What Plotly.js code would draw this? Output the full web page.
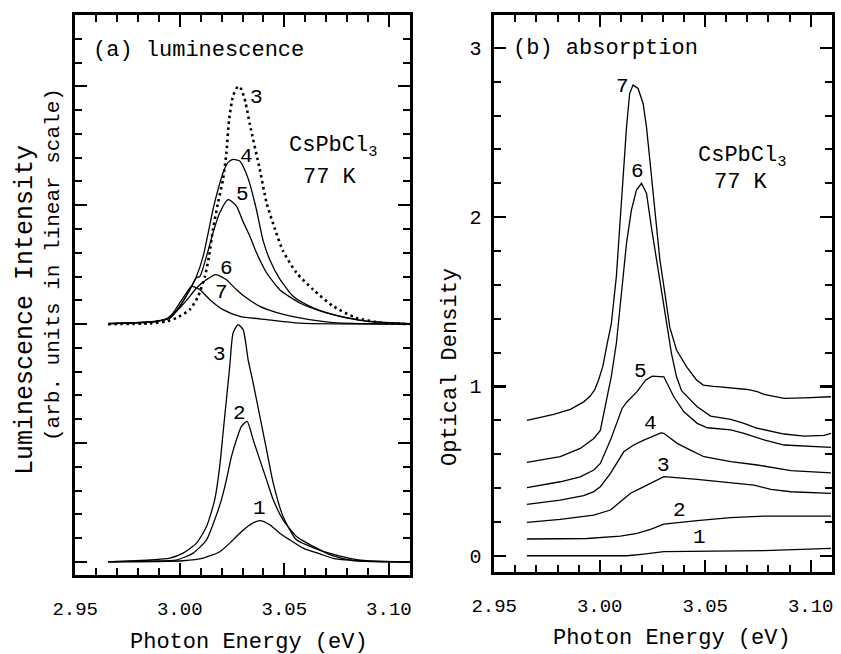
<!DOCTYPE html>
<html>
<head>
<meta charset="utf-8">
<script src="https://cdn.plot.ly/plotly-3.0.1.min.js"></script>
<style>html,body{margin:0;padding:0;background:#fff;}#plot{width:841px;height:654px;}</style>
</head>
<body>
<div id="plot"></div>
<script>
// ---------- Panel (a): luminescence (arb. units, tick units) ----------
// lower set (baseline 0)
const lumX1 = [2.9657,3.0016,3.0112,3.0191,3.0239,3.0287,3.0335,3.0383,3.0431,3.0478,3.0526,3.0590,3.0670,3.0734,3.0893,3.1100];
const lumY1 = [0.00,0.05,0.16,0.43,0.79,1.21,1.56,1.74,1.56,1.21,0.93,0.58,0.34,0.15,0.03,0.00];
const lumX2 = [2.9657,2.9856,2.9984,3.0064,3.0128,3.0167,3.0199,3.0223,3.0247,3.0271,3.0295,3.0322,3.0351,3.0383,3.0415,3.0447,3.0494,3.0558,3.0654,3.0734,3.0829,3.1100];
const lumY2 = [0.00,0.04,0.08,0.37,0.93,1.77,2.61,3.45,4.43,5.14,5.70,5.91,5.14,4.29,3.45,2.61,1.77,1.07,0.58,0.25,0.06,0.00];
const lumX3 = [2.9657,2.9856,2.9952,3.0016,3.0080,3.0128,3.0167,3.0191,3.0207,3.0223,3.0239,3.0255,3.0279,3.0303,3.0327,3.0351,3.0383,3.0415,3.0447,3.0494,3.0558,3.0654,3.0702,3.0813,3.0893,3.1100];
const lumY3 = [0.00,0.08,0.16,0.37,0.79,1.49,2.61,4.01,5.42,6.82,8.22,9.63,9.98,9.77,8.50,7.52,6.12,4.72,3.31,1.91,0.93,0.55,0.40,0.15,0.05,0.00];
// upper set (values above the upper baseline)
const upperOffset = 10;
const lumX3u = [2.9657,2.9856,2.9936,2.9984,3.0048,3.0088,3.0120,3.0140,3.0159,3.0183,3.0207,3.0223,3.0236,3.0255,3.0279,3.0295,3.0315,3.0335,3.0383,3.0415,3.0455,3.0494,3.0558,3.0638,3.0734,3.0845,3.0973,3.1100];
const lumY3u = [0.00,0.03,0.12,0.26,0.61,1.17,2.00,2.86,4.00,5.10,6.10,7.20,8.60,9.60,10.00,9.87,9.30,8.40,6.50,5.10,4.00,3.07,2.16,1.45,0.75,0.26,0.05,0.00];
const lumX4 = [2.9657,2.9761,2.9888,2.9952,3.0000,3.0048,3.0080,3.0112,3.0136,3.0159,3.0183,3.0207,3.0231,3.0255,3.0287,3.0310,3.0335,3.0367,3.0399,3.0431,3.0478,3.0542,3.0622,3.0734,3.0893,3.1100];
const lumY4 = [0.02,0.05,0.12,0.26,0.75,1.45,2.01,2.86,3.84,4.82,5.66,6.37,6.80,6.93,6.86,6.50,5.90,4.80,3.50,2.70,1.90,1.17,0.75,0.40,0.12,0.02];
const lumX5 = [2.9657,2.9761,2.9888,2.9952,3.0000,3.0048,3.0080,3.0096,3.0128,3.0159,3.0191,3.0231,3.0271,3.0303,3.0335,3.0367,3.0415,3.0478,3.0574,3.0702,3.0861,3.1100];
const lumY5 = [0.02,0.05,0.12,0.26,0.75,1.45,1.95,2.00,2.86,3.84,4.68,5.24,4.96,4.30,3.70,3.00,2.16,1.45,0.89,0.47,0.16,0.02];
const lumX6 = [2.9657,2.9761,2.9888,2.9952,3.0000,3.0048,3.0080,3.0128,3.0172,3.0223,3.0271,3.0320,3.0383,3.0431,3.0500,3.0574,3.0734,3.0900,3.1100];
const lumY6 = [0.02,0.05,0.12,0.26,0.68,1.17,1.52,1.87,2.08,1.87,1.45,1.10,0.75,0.58,0.40,0.26,0.06,0.02,0.00];
const lumX7 = [2.9657,2.9856,2.9936,2.9968,3.0000,3.0032,3.0056,3.0096,3.0144,3.0207,3.0287,3.0415,3.0574,3.1100];
const lumY7 = [0.02,0.09,0.22,0.47,0.89,1.31,1.59,1.45,1.03,0.61,0.33,0.19,0.04,0.00];

// ---------- Panel (b): absorption (optical density) ----------
const absX1 = [2.9655,3.0130,3.0209,3.0304,3.0779,3.0906,3.1096];
const absY1 = [0.000,0.000,0.010,0.024,0.030,0.034,0.044];
const absX2 = [2.9655,2.9940,3.0098,3.0177,3.0241,3.0304,3.0462,3.0621,3.0779,3.1096];
const absY2 = [0.099,0.102,0.116,0.132,0.156,0.187,0.207,0.225,0.234,0.234];
const absX3 = [2.9655,2.9813,2.9972,3.0051,3.0098,3.0146,3.0193,3.0256,3.0304,3.0462,3.0621,3.0731,3.0811,3.0906,3.1096];
const absY3 = [0.197,0.215,0.240,0.270,0.319,0.369,0.398,0.437,0.467,0.451,0.431,0.417,0.392,0.378,0.368];
const absX4 = [2.9655,2.9813,2.9924,2.9972,3.0003,3.0051,3.0114,3.0161,3.0209,3.0256,3.0290,3.0304,3.0367,3.0430,3.0494,3.0621,3.0747,3.0906,3.1096];
const absY4 = [0.303,0.329,0.355,0.379,0.408,0.487,0.614,0.654,0.683,0.707,0.725,0.723,0.664,0.624,0.585,0.556,0.536,0.503,0.490];
const absX5 = [2.9655,2.9813,2.9908,2.9972,3.0003,3.0051,3.0106,3.0130,3.0177,3.0217,3.0249,3.0288,3.0304,3.0351,3.0399,3.0462,3.0510,3.0621,3.0684,3.0779,3.0874,3.1096];
const absY5 = [0.402,0.437,0.466,0.506,0.545,0.683,0.870,0.910,0.969,1.037,1.061,1.061,1.057,0.939,0.850,0.782,0.756,0.743,0.723,0.684,0.654,0.640];
const absX6 = [2.9655,2.9813,2.9908,2.9972,3.0003,3.0022,3.0040,3.0055,3.0079,3.0103,3.0127,3.0150,3.0174,3.0198,3.0222,3.0245,3.0269,3.0293,3.0317,3.0340,3.0364,3.0388,3.0415,3.0462,3.0526,3.0621,3.0684,3.0747,3.0874,3.0969,3.1064,3.1096];
const absY6 = [0.552,0.585,0.634,0.693,0.740,0.850,0.960,1.060,1.255,1.550,1.845,2.040,2.160,2.200,2.140,1.940,1.750,1.550,1.350,1.195,1.057,0.975,0.940,0.880,0.825,0.806,0.782,0.753,0.719,0.707,0.711,0.723];
const absX7 = [2.9655,2.9782,2.9861,2.9924,2.9953,2.9976,2.9995,3.0015,3.0035,3.0055,3.0079,3.0095,3.0111,3.0127,3.0142,3.0158,3.0182,3.0206,3.0222,3.0237,3.0261,3.0285,3.0309,3.0332,3.0364,3.0412,3.0459,3.0491,3.0538,3.0570,3.0700,3.0747,3.0779,3.0874,3.0969,3.1096];
const absY7 = [0.800,0.835,0.865,0.909,0.940,0.980,1.040,1.120,1.250,1.370,1.650,1.940,2.240,2.530,2.730,2.780,2.760,2.670,2.530,2.340,2.040,1.750,1.550,1.350,1.215,1.116,1.038,1.008,1.000,0.998,0.982,0.969,0.953,0.929,0.933,0.939];

// Curve labels
const curveLabelsA = ['3','4','5','6','7','3','2','1'];
const curveLabelsB = ['7','6','5','4','3','2','1'];

const FONT = '"Liberation Mono", "Courier New", Courier, monospace';
const black = '#000';

function line(x, y, xa, ya, opts) {
  return Object.assign({
    type: 'scatter', mode: 'lines', x: x, y: y, xaxis: xa, yaxis: ya,
    line: {color: black, width: 1.3}, hoverinfo: 'skip', showlegend: false
  }, opts || {});
}
const sp = {shape: 'spline', smoothing: 0.6};
function spl(w, dash) { return Object.assign({color: black, width: w, dash: dash || 'solid'}, sp); }

const up = arr => arr.map(v => v + upperOffset);

const traces = [
  line(lumX1, lumY1, 'x', 'y', {line: spl(1.3)}),
  line(lumX2, lumY2, 'x', 'y', {line: spl(1.3)}),
  line(lumX3, lumY3, 'x', 'y', {line: spl(1.3)}),
  line(lumX3u, up(lumY3u), 'x', 'y', {line: spl(2.6, '2.5px,3.5px')}),
  line(lumX4, up(lumY4), 'x', 'y', {line: spl(1.3)}),
  line(lumX5, up(lumY5), 'x', 'y', {line: spl(1.3)}),
  line(lumX6, up(lumY6), 'x', 'y', {line: spl(1.3)}),
  line(lumX7, up(lumY7), 'x', 'y', {line: spl(1.3)}),
  line(absX1, absY1, 'x2', 'y2'),
  line(absX2, absY2, 'x2', 'y2'),
  line(absX3, absY3, 'x2', 'y2'),
  line(absX4, absY4, 'x2', 'y2'),
  line(absX5, absY5, 'x2', 'y2'),
  line(absX6, absY6, 'x2', 'y2'),
  line(absX7, absY7, 'x2', 'y2')
];

// label positions (data coordinates)
const labelPosA = [[3.0367,19.52],[3.0319,17.06],[3.0300,15.45],[3.0223,12.36],[3.0199,11.31],[3.0191,8.72],[3.0287,6.26],[3.0380,2.26]];
const labelPosB = [[3.0106,2.77],[3.0178,2.268],[3.0193,1.087],[3.0240,0.783],[3.0301,0.536],[3.0380,0.266],[3.0475,0.107]];

const W = 841, H = 654;
const px = v => v / W, py = v => 1 - v / H;

const annotations = [];
curveLabelsA.forEach((t, i) => annotations.push({text: t, x: labelPosA[i][0], y: labelPosA[i][1], xref: 'x', yref: 'y', showarrow: false, font: {family: FONT, size: 21, color: black}}));
curveLabelsB.forEach((t, i) => annotations.push({text: t, x: labelPosB[i][0], y: labelPosB[i][1], xref: 'x2', yref: 'y2', showarrow: false, font: {family: FONT, size: 21, color: black}}));

function txt(text, x, y, size, extra) {
  annotations.push(Object.assign({text: text, x: px(x), y: py(y), xref: 'paper', yref: 'paper', showarrow: false,
    xanchor: 'left', yanchor: 'middle', font: {family: FONT, size: size, color: black}}, extra || {}));
}
txt('(a) luminescence', 91, 50, 22);
txt('CsPbCl<sub>3</sub>', 287, 147, 22);
txt('77 K', 301, 177, 22);
txt('(b) absorption', 511, 48, 22);
txt('CsPbCl<sub>3</sub>', 696, 157, 22);
txt('77 K', 712, 182, 22);
txt('Luminescence Intensity', 25, 310, 25, {xanchor: 'center', textangle: -90});
txt('(arb. units in linear scale)', 53, 265, 21, {xanchor: 'center', textangle: -90});
txt('Optical Density', 450, 367, 22, {xanchor: 'center', textangle: -90});
txt('Photon Energy (eV)', 249, 642, 22, {xanchor: 'center'});
txt('Photon Energy (eV)', 672, 638, 22, {xanchor: 'center'});

function xAxis(domain, anchor) {
  return {
    domain: domain, anchor: anchor, range: [2.9499, 3.1101], tick0: 2.95, dtick: 0.05, tickformat: '.2f',
    ticks: 'inside', ticklen: 12, tickwidth: 2.2, tickcolor: black,
    minor: {dtick: 0.01, ticks: 'inside', ticklen: 7, tickwidth: 2, tickcolor: black, showgrid: false},
    showline: true, linewidth: 2.6, linecolor: black, mirror: 'ticks',
    showgrid: false, zeroline: false, ticklabelstandoff: 15,
    tickfont: {family: FONT, size: 19, color: black}
  };
}
function yAxis(domain, anchor, range, dtick, mdtick, showLabels) {
  return {
    domain: domain, anchor: anchor, range: range, tick0: 0, dtick: dtick,
    ticks: 'inside', ticklen: 12, tickwidth: 2.2, tickcolor: black,
    minor: {dtick: mdtick, ticks: 'inside', ticklen: 7, tickwidth: 2, tickcolor: black, showgrid: false},
    showline: true, linewidth: 2.6, linecolor: black, mirror: 'ticks',
    showgrid: false, zeroline: false, showticklabels: showLabels, ticklabelstandoff: 6,
    tickfont: {family: FONT, size: 20, color: black}
  };
}

const layout = {
  width: W, height: H,
  margin: {l: 0, r: 0, t: 0, b: 0},
  paper_bgcolor: '#fff', plot_bgcolor: '#fff',
  showlegend: false,
  font: {family: FONT, color: black},
  xaxis: xAxis([75 / W, 410 / W], 'y'),
  yaxis: yAxis([1 - 575 / H, 1 - 15 / H], 'x', [-0.55, 23.0], 5, 1, false),
  xaxis2: xAxis([494 / W, 832 / W], 'y2'),
  yaxis2: yAxis([1 - 572 / H, 1 - 15 / H], 'x2', [-0.096, 3.194], 1, 0.2, true),
  annotations: annotations
};

Plotly.newPlot('plot', traces, layout, {displayModeBar: false, staticPlot: true});
</script>
</body>
</html>
